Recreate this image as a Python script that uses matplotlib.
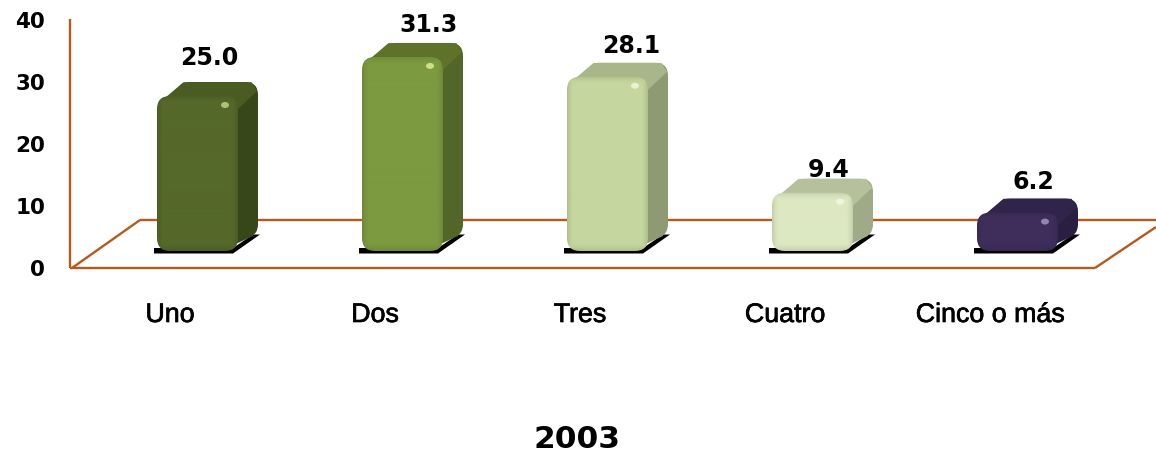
import numpy as np
import matplotlib
matplotlib.use("Agg")
import matplotlib.pyplot as plt
import matplotlib.patheffects as pe
from matplotlib.patches import FancyBboxPatch, Polygon, Ellipse
from matplotlib.transforms import IdentityTransform
from matplotlib.colors import to_rgb

categories = ["Uno", "Dos", "Tres", "Cuatro", "Cinco o más"]
values = [25.0, 31.3, 28.1, 9.4, 6.2]
value_labels = ["25.0", "31.3", "28.1", "9.4", "6.2"]
y_ticks = [0, 10, 20, 30, 40]
title = "2003"
front_colors = ["#55692A", "#7C9A40", "#C5D79E", "#DDE8C2", "#3F2E5C"]
top_colors = ["#4A5C22", "#5E7229", "#A8B78A", "#B6C19C", "#30244A"]
side_colors = ["#37471A", "#526627", "#8E9B72", "#9FAA88", "#2A1F40"]
highlight_colors = ["#B9CC80", "#D5E890", "#EEF5D8", "#F2F7E2", "#9A8FB8"]
label_rise = [41, 35, 34, 26, 34]
label_shift = [12, 26, 24, 16, 16]

W, H = 1156, 456
X0, DX, Y0, DY = 197.5, 205.0, 252.0, 6.2
LINE = "#B5591C"

fig = plt.figure(figsize=(W / 100, H / 100), dpi=100)
ax = fig.add_axes([0, 0, 1, 1])
ax.set_xlim((0 - X0) / DX, (W - X0) / DX)
ax.set_ylim(-(H - Y0) / DY, Y0 / DY)
ax.axis("off")
I = IdentityTransform()


def px(i, v):
    """Display pixels of (category index, value) from the axes scales."""
    return ax.transData.transform((i, v))


base = px(0, 0)[1]
wall_x = px(0, 0)[0] - 127.5   # wall line
floor_y = base - 17            # front floor edge

# axis / floor lines
lk = dict(color=LINE, lw=1.7, transform=I, zorder=1, solid_capstyle="butt")
ax.plot([wall_x, wall_x], [floor_y, H - 20], **lk)
ax.plot([wall_x, 1095], [floor_y, floor_y], **lk)
ax.plot([wall_x + 2, wall_x + 70], [floor_y, floor_y + 48], **lk)
ax.plot([wall_x + 70, W], [floor_y + 48, floor_y + 48], **lk)
ax.plot([1095, W], [floor_y, floor_y + 41], **lk)

# y tick labels
for t in y_ticks:
    _, y = px(0, t)
    ax.text(45, y - 17 - 1, str(t), transform=I, ha="right", va="center",
            fontsize=15.5, fontweight="bold", family="DejaVu Sans", color="black")

w, dx, dy, r = 81, 20, 14, 13
for i, (v, lab) in enumerate(zip(values, value_labels)):
    xc, ytop = px(i, v)
    x0 = xc - w / 2
    x1 = xc + w / 2
    yb = base
    h = ytop - yb
    z = 3
    # shadow
    ax.add_patch(Polygon([(x0 - 3, yb - 2.5), (x1 - 5, yb - 2.5), (x1 + 22, yb + 16.5),
                          (x1 + 15, yb + 16.5), (x1 - 5, yb + 3), (x0 - 3, yb + 3)],
                         closed=True, fc="black", ec="none", transform=I, zorder=2))
    # back block (top + side)
    box = "round,pad=0,rounding_size=%g" % r
    ax.add_patch(FancyBboxPatch((x0 + dx, yb + dy), w, h, boxstyle=box, fc=side_colors[i],
                                ec="none", transform=I, zorder=z))
    ax.add_patch(Polygon([(x1 - r, yb + 2), (x1 + dx - r * 0.4, yb + dy + 1), (x1 + dx, yb + dy + r),
                          (x1 + dx, ytop + dy - r), (x1, ytop - r)],
                         closed=True, fc=side_colors[i], ec="none", transform=I, zorder=z))
    ax.add_patch(Polygon([(x0 + 1, ytop - r * 0.6), (x0 + dx + r * 0.5, ytop + dy - 0.2),
                          (x1 + dx - r * 0.5, ytop + dy - 0.2), (x1 + dx - 1, ytop + dy - r * 0.7),
                          (x1, ytop - r)],
                         closed=True, fc=top_colors[i], ec="none", transform=I, zorder=z))
    # front face with bevel shading
    patch = FancyBboxPatch((x0, yb), w, h, boxstyle=box, fc="none", ec="none",
                           transform=I, zorder=z + 1)
    ax.add_patch(patch)
    nx, ny = int(w), max(int(h), 2)
    gx = np.arange(nx) + 0.5
    gy = np.arange(ny) + 0.5
    ex = np.minimum(gx, nx - gx)
    ey = np.minimum(gy, ny - gy)
    shade_x = np.clip(ex / 6, 0, 1)
    shade_y = np.clip(ey / 7, 0, 1)
    shade = np.minimum.outer(shade_y, shade_x)
    col = np.array(to_rgb(front_colors[i]))
    img = col[None, None, :] * (0.87 + 0.13 * shade[:, :, None] ** 0.7)
    im = ax.imshow(img, extent=(x0, x1, yb, ytop), transform=I, origin="lower",
                   aspect="auto", zorder=z + 1, interpolation="bilinear")
    im.set_clip_path(patch)
    ax.add_patch(Ellipse((x1 - 13, ytop - 9), 8, 6, fc=highlight_colors[i], ec="none",
                         alpha=0.9, transform=I, zorder=z + 2))
    # value labels
    ax.text(xc + label_shift[i], ytop + label_rise[i] - 2, lab, transform=I, ha="center", va="center",
            fontsize=17, fontweight="bold", family="DejaVu Sans", color="black", zorder=6)
    # category labels
    ax.text(xc - 27.5, H - 316, categories[i], transform=I, ha="center", va="center",
            fontsize=19.3, family="Liberation Sans", color="black",
            path_effects=[pe.withStroke(linewidth=0.5, foreground="black")])

ax.set_xlim((0 - X0) / DX, (W - X0) / DX)
ax.set_ylim(-(H - Y0) / DY, Y0 / DY)
ax.text(577, H - 440, title, transform=I, ha="center", va="center", fontsize=22.5,
        fontweight="bold", family="DejaVu Sans", color="black")
fig.savefig("out.png", dpi=100)
